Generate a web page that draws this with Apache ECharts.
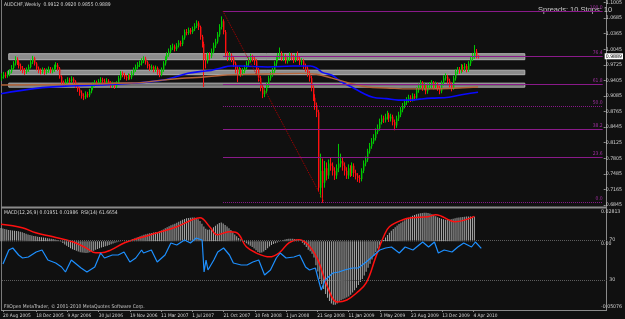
<!DOCTYPE html>
<html><head><meta charset="utf-8">
<script src="https://cdn.jsdelivr.net/npm/echarts@6/dist/echarts.min.js"></script>
<style>html,body{margin:0;padding:0;background:#101010;}#c{width:625px;height:319px;}</style>
</head><body><div id="c"></div>
<script>
const FONT = "'Liberation Sans Narrow','DejaVu Sans Condensed','Liberation Sans',sans-serif";

// ---- categories / tick labels ----
const firstLabel = '20 Aug 2005';
const totalSlots = 310;
const monthNames = ['Jan','Feb','Mar','Apr','May','Jun','Jul','Aug','Sep','Oct','Nov','Dec'];
const tickLabels = ['20 Aug 2005','18 Dec 2005','9 Apr 2006','30 Jul 2006','19 Nov 2006','11 Mar 2007','1 Jul 2007','21 Oct 2007','10 Feb 2008','1 Jun 2008','21 Sep 2008','11 Jan 2009','3 May 2009','23 Aug 2009','13 Dec 2009','4 Apr 2010'];
const priceTicks = [1.1005,1.0685,1.0365,1.0045,0.9725,0.9405,0.9085,0.8765,0.8445,0.8125,0.7805,0.7485,0.7165,0.6845];
const macdTicks = [0.02813, 0, -0.05076];
const rsiLevels = [70, 30];

// ---- weekly AUDCHF candles ----
const firstOpen = 0.945;
const closes = [
0.948,0.952,0.950,0.953,0.958,0.966,0.975,0.984,0.978,0.970,
0.965,0.960,0.958,0.962,0.968,0.978,0.986,0.975,0.965,0.960,
0.958,0.962,0.957,0.960,0.964,0.959,0.962,0.968,0.972,0.965,
0.948,0.935,0.932,0.938,0.942,0.940,0.944,0.938,0.930,0.922,
0.915,0.908,0.906,0.912,0.910,0.918,0.925,0.932,0.936,0.934,
0.938,0.942,0.940,0.936,0.940,0.935,0.930,0.933,0.928,0.934,
0.945,0.955,0.952,0.948,0.945,0.950,0.947,0.955,0.962,0.968,
0.972,0.975,0.980,0.985,0.978,0.970,0.965,0.968,0.962,0.966,
0.958,0.952,0.962,0.975,0.985,0.993,1.000,1.008,1.010,1.005,
1.012,1.018,1.015,1.028,1.040,1.038,1.044,1.040,1.046,1.052,
1.058,1.050,1.030,1.015,0.985,0.980,0.992,0.990,1.000,1.012,
1.020,1.035,1.050,1.062,1.040,0.995,0.988,0.992,0.985,0.975,
0.965,0.958,0.962,0.955,0.960,0.966,0.975,0.982,0.988,0.985,
0.980,0.962,0.945,0.925,0.912,0.918,0.930,0.945,0.952,0.960,
0.975,0.985,0.990,0.995,0.985,0.990,0.980,0.985,0.992,0.988,
0.982,0.990,0.985,0.978,0.980,0.970,0.965,0.955,0.945,0.925,
0.905,0.890,0.875,0.720,0.755,0.730,0.760,0.745,0.770,0.765,
0.755,0.745,0.760,0.770,0.775,0.765,0.755,0.745,0.760,0.750,
0.765,0.750,0.745,0.740,0.738,0.755,0.770,0.778,0.795,0.805,
0.815,0.822,0.835,0.842,0.855,0.862,0.860,0.865,0.870,0.862,
0.866,0.855,0.848,0.862,0.870,0.880,0.888,0.895,0.900,0.905,
0.902,0.908,0.905,0.920,0.928,0.935,0.925,0.930,0.918,0.928,
0.930,0.935,0.928,0.932,0.925,0.918,0.935,0.945,0.948,0.940,
0.932,0.925,0.945,0.958,0.962,0.960,0.968,0.965,0.970,0.963,
0.975,0.985,0.990,1.000,0.9912,0.9889];
const highs = [
0.955,0.958,0.957,0.960,0.963,0.972,0.980,0.990,0.988,0.982,
0.975,0.970,0.966,0.967,0.973,0.983,0.991,0.989,0.978,0.969,
0.965,0.967,0.966,0.965,0.969,0.968,0.967,0.973,0.978,0.976,
0.968,0.951,0.940,0.943,0.947,0.946,0.949,0.947,0.941,0.934,
0.926,0.920,0.914,0.918,0.917,0.923,0.930,0.937,0.941,0.940,
0.943,0.947,0.946,0.944,0.945,0.943,0.939,0.938,0.936,0.939,
0.950,0.960,0.959,0.956,0.952,0.955,0.954,0.960,0.967,0.973,
0.978,0.981,0.986,0.990,0.989,0.981,0.974,0.973,0.971,0.971,
0.969,0.962,0.967,0.980,0.990,0.998,1.006,1.013,1.016,1.014,
1.017,1.023,1.022,1.033,1.045,1.046,1.049,1.048,1.051,1.058,
1.064,1.062,1.053,1.034,1.020,0.995,0.998,0.998,1.006,1.018,
1.026,1.040,1.056,1.072,1.066,1.044,1.000,0.999,0.996,0.990,
0.979,0.970,0.968,0.966,0.966,0.972,0.980,0.988,0.995,0.993,
0.990,0.984,0.966,0.950,0.930,0.924,0.936,0.950,0.958,0.966,
0.980,0.991,0.997,1.008,1.000,0.996,0.994,0.991,0.998,0.997,
0.993,0.996,1.000,0.990,0.986,0.984,0.975,0.970,0.960,0.950,
0.930,0.912,0.895,0.880,0.790,0.780,0.775,0.772,0.778,0.782,
0.772,0.762,0.768,0.810,0.790,0.782,0.772,0.762,0.768,0.766,
0.772,0.770,0.757,0.750,0.746,0.760,0.776,0.784,0.800,0.812,
0.822,0.830,0.842,0.850,0.862,0.870,0.868,0.872,0.878,0.874,
0.872,0.870,0.860,0.868,0.876,0.886,0.894,0.901,0.906,0.911,
0.910,0.914,0.913,0.926,0.934,0.941,0.939,0.936,0.933,0.934,
0.937,0.941,0.939,0.938,0.936,0.929,0.940,0.951,0.955,0.952,
0.944,0.936,0.950,0.963,0.968,0.968,0.974,0.973,0.976,0.974,
0.980,0.990,0.997,1.013,1.005,0.9920];
const lows = [
0.940,0.944,0.945,0.946,0.949,0.955,0.962,0.971,0.972,0.965,
0.960,0.955,0.952,0.954,0.958,0.965,0.974,0.971,0.961,0.955,
0.953,0.954,0.952,0.953,0.956,0.955,0.955,0.958,0.964,0.960,
0.944,0.930,0.927,0.929,0.934,0.935,0.936,0.933,0.925,0.917,
0.909,0.903,0.900,0.902,0.905,0.906,0.914,0.921,0.928,0.929,
0.930,0.934,0.935,0.931,0.932,0.930,0.925,0.926,0.923,0.925,
0.931,0.941,0.947,0.943,0.940,0.941,0.942,0.943,0.951,0.958,
0.964,0.968,0.971,0.976,0.973,0.965,0.960,0.961,0.957,0.958,
0.952,0.947,0.949,0.958,0.971,0.981,0.989,0.996,1.003,1.000,
1.001,1.008,1.010,1.011,1.024,1.033,1.034,1.035,1.036,1.042,
1.048,1.044,1.024,1.008,0.927,0.965,0.975,0.983,0.986,0.996,
1.007,1.016,1.030,1.045,1.035,0.988,0.980,0.982,0.978,0.968,
0.955,0.937,0.950,0.948,0.950,0.955,0.962,0.970,0.977,0.979,
0.972,0.955,0.938,0.918,0.904,0.906,0.914,0.926,0.940,0.948,
0.956,0.970,0.980,0.985,0.980,0.980,0.975,0.975,0.980,0.982,
0.976,0.978,0.980,0.972,0.972,0.964,0.958,0.948,0.938,0.918,
0.898,0.880,0.865,0.712,0.700,0.689,0.720,0.735,0.738,0.755,
0.745,0.736,0.738,0.752,0.762,0.755,0.745,0.738,0.738,0.742,
0.744,0.742,0.737,0.732,0.730,0.733,0.750,0.764,0.773,0.790,
0.800,0.810,0.817,0.830,0.837,0.850,0.853,0.854,0.860,0.855,
0.856,0.848,0.838,0.843,0.857,0.865,0.875,0.883,0.890,0.895,
0.896,0.897,0.899,0.901,0.915,0.923,0.919,0.920,0.912,0.913,
0.922,0.925,0.922,0.923,0.919,0.912,0.914,0.930,0.940,0.934,
0.926,0.918,0.921,0.940,0.953,0.954,0.955,0.958,0.960,0.957,
0.958,0.970,0.980,0.985,0.986,0.9855];

// ---- moving averages (bar index, price) ----
const blueMA = [[0,0.913],[18,0.924],[35,0.929],[52,0.931],[69,0.935],[83,0.941],[89,0.947],[96,0.955],[103,0.959],[108,0.961],[113,0.966],[118,0.970],[123,0.970],[137,0.968],[150,0.970],[159,0.970],[162,0.966],[165,0.957],[170,0.951],[175,0.937],[181,0.925],[186,0.914],[191,0.906],[198,0.903],[204,0.900],[210,0.900],[215,0.902],[221,0.904],[230,0.906],[238,0.912],[245,0.916]];
const brownMA = [[0,0.931],[67,0.935],[83,0.941],[93,0.945],[103,0.947],[114,0.951],[128,0.953],[154,0.955],[162,0.953],[170,0.945],[179,0.935],[188,0.927],[198,0.925],[210,0.923],[218,0.923],[245,0.927]];

// ---- zones: [fromBar, toBar, low, high] ----
const zones = [[4,269,0.9830,0.9953],[4,269,0.9522,0.9614],[4,269,0.9266,0.9348]];
// ---- fibonacci anchors ----
const fibHighBar = 114, fibHighPrice = 1.0825;
const fibLowBar = 166, fibLowPrice = 0.6907;
const fibRatios = [0, 0.236, 0.382, 0.5, 0.618, 0.764, 1];
const lastClose = 0.9889;

// ---- MACD(12,26,9) main (histogram) per bar ----
const macdMain = [
0.0105,0.0102,0.0098,0.0094,0.0090,0.0088,0.0086,0.0084,0.0082,0.0080,
0.0077,0.0072,0.0066,0.0060,0.0055,0.0050,0.0046,0.0043,0.0040,0.0037,
0.0035,0.0033,0.0031,0.0028,0.0025,0.0022,0.0020,0.0018,0.0014,0.0010,
0.0004,-0.0004,-0.0014,-0.0025,-0.0036,-0.0046,-0.0055,-0.0063,-0.0070,-0.0076,
-0.0082,-0.0087,-0.0090,-0.0092,-0.0093,-0.0092,-0.0088,-0.0082,-0.0075,-0.0068,
-0.0062,-0.0056,-0.0050,-0.0045,-0.0040,-0.0036,-0.0030,-0.0024,-0.0018,-0.0012,
-0.0008,-0.0004,-0.0002,0.0000,0.0002,0.0004,0.0007,0.0011,0.0016,0.0022,
0.0028,0.0034,0.0040,0.0046,0.0052,0.0056,0.0060,0.0064,0.0067,0.0070,
0.0072,0.0075,0.0080,0.0087,0.0095,0.0104,0.0112,0.0120,0.0128,0.0134,
0.0140,0.0148,0.0156,0.0164,0.0172,0.0178,0.0183,0.0186,0.0188,0.0190,
0.0190,0.0186,0.0176,0.0162,0.0140,0.0118,0.0100,0.0092,0.0095,0.0102,
0.0112,0.0124,0.0136,0.0146,0.0150,0.0142,0.0130,0.0118,0.0104,0.0090,
0.0072,0.0054,0.0040,0.0026,0.0014,0.0004,-0.0006,-0.0016,-0.0026,-0.0036,
-0.0046,-0.0058,-0.0072,-0.0085,-0.0092,-0.0090,-0.0082,-0.0070,-0.0056,-0.0042,
-0.0030,-0.0022,-0.0016,-0.0010,-0.0004,0.0002,0.0008,0.0014,0.0018,0.0020,
0.0021,0.0020,0.0018,0.0014,0.0008,0.0000,-0.0012,-0.0028,-0.0046,-0.0068,
-0.0080,-0.0100,-0.0130,-0.0190,-0.0240,-0.0300,-0.0340,-0.0380,-0.0420,-0.0450,
-0.0475,-0.0495,-0.0505,-0.0505,-0.0495,-0.0480,-0.0470,-0.0462,-0.0455,-0.0448,
-0.0440,-0.0425,-0.0408,-0.0390,-0.0370,-0.0348,-0.0325,-0.0300,-0.0272,-0.0242,
-0.0210,-0.0178,-0.0146,-0.0115,-0.0085,-0.0058,-0.0032,-0.0010,0.0010,0.0030,
0.0050,0.0068,0.0084,0.0098,0.0112,0.0125,0.0137,0.0148,0.0158,0.0168,
0.0178,0.0188,0.0196,0.0203,0.0210,0.0216,0.0220,0.0224,0.0226,0.0227,
0.0228,0.0226,0.0222,0.0216,0.0208,0.0200,0.0192,0.0186,0.0180,0.0175,
0.0172,0.0170,0.0172,0.0176,0.0180,0.0184,0.0187,0.0190,0.0192,0.0194,
0.0196,0.0197,0.0198,0.0198,0.0196,0.01951];
// ---- MACD signal (bar index, value) ----
const macdSignal = [[0,0.0135],[11,0.0108],[18,0.0068],[27,0.0036],[37,-0.0004],[44,-0.0052],[49,-0.0092],[52,-0.0092],[57,-0.0068],[64,-0.0012],[72,0.0028],[81,0.0068],[91,0.0116],[99,0.0172],[103,0.0188],[108,0.0116],[112,0.0052],[118,0.0076],[122,0.0068],[127,-0.0044],[132,-0.0092],[139,-0.0124],[144,-0.0092],[149,-0.0012],[154,0.0012],[159,-0.0028],[164,-0.0148],[169,-0.0364],[174,-0.0484],[179,-0.0468],[184,-0.0412],[189,-0.0332],[194,-0.0124],[198,0.0036],[201,0.0116],[208,0.0172],[213,0.0188],[221,0.0196],[225,0.0212],[235,0.0156],[245,0.01986]];
// ---- RSI(14) (bar index, value) ----
const rsi = [[0,46],[1,48],[3,60],[5,62],[8,55],[10,52],[13,53],[17,58],[20,60],[23,50],[27,47],[30,43],[32,38],[35,50],[40,42],[43,38],[47,43],[50,57],[52,52],[56,55],[59,55],[62,58],[65,48],[68,52],[71,60],[72,57],[76,60],[79,48],[83,55],[86,67],[89,65],[93,70],[96,67],[99,72],[102,70],[103,38],[104,50],[105,40],[108,50],[110,58],[113,62],[116,55],[118,47],[122,45],[125,45],[128,48],[131,50],[134,35],[137,40],[140,52],[142,57],[145,52],[149,53],[152,55],[155,43],[157,40],[160,42],[163,20],[165,30],[169,37],[172,38],[175,40],[179,42],[182,42],[186,48],[189,53],[193,60],[196,62],[199,63],[203,57],[206,63],[210,60],[211,62],[215,68],[218,63],[221,68],[223,57],[226,60],[230,58],[233,63],[236,67],[240,63],[242,68],[245,61.6654]];

// ---- texts ----
const headerText = 'AUDCHF,Weekly  0.9912 0.9920 0.9855 0.9889';
const spreadText = 'Spreads: 10 Stops: 10';
const indicatorText = 'MACD(12,26,9) 0.01951 0.01986  RSI(14) 61.6654';
const footerText = 'FXOpen MetaTrader, \u00a9 2001-2010 MetaQuotes Software Corp.';

// ================= build =================
const categories = [];
for (let k = 0; k < totalSlots; k++) {
  if (k === 0) { categories.push(firstLabel); continue; }
  const d = new Date(Date.UTC(2005, 7, 21 + 7 * k));
  categories.push(d.getUTCDate() + ' ' + monthNames[d.getUTCMonth()] + ' ' + d.getUTCFullYear());
}
// [barIndex, open, close, low, high]
const candleData = closes.map((c, i) => {
  const o = i === 0 ? firstOpen : closes[i - 1];
  return [i, o, c, Math.min(lows[i], o, c), Math.max(highs[i], o, c)];
});
const lastSlot = totalSlots - 1;
const fibLines = fibRatios.map(r => {
  const lvl = fibLowPrice + r * (fibHighPrice - fibLowPrice);
  const dotted = (r === 0 || r === 0.5);
  return [
    {coord: [fibHighBar, lvl], lineStyle: {color: '#8a1a8a', width: 1, type: dotted ? 'dotted' : 'solid'},
     label: {show: true, position: 'insideEndTop', formatter: (r * 100).toFixed(1), color: '#a030a0', fontSize: 5, fontFamily: FONT, distance: [0, 1]}},
    {coord: [lastSlot, lvl]}
  ];
});
const trendLine = [
  {coord: [fibHighBar, fibHighPrice], lineStyle: {color: '#b00000', width: 1, type: 'dotted'}, label: {show: false}},
  {coord: [fibLowBar, fibLowPrice]}
];
const priceTag = {yAxis: lastClose, lineStyle: {width: 1, color: 'rgba(0,0,0,0)'},
  label: {show: true, position: 'end', formatter: lastClose.toFixed(4), backgroundColor: '#ffffff', color: '#000000',
          padding: [1, 1, 0, 1], fontSize: 5.2, fontFamily: FONT, distance: 1}};
const zoneAreas = zones.map((z, i) => [
  {coord: [z[0], z[3]], itemStyle: {color: i === 2 ? '#707070' : '#8c8c8c', borderColor: '#b4b4b4', borderWidth: 1}},
  {coord: [z[1], z[2]]}
]);

const UP = '#00c800', DOWN = '#ff1010';
function renderCandle(params, api) {
  const x = api.value(0), o = api.value(1), c = api.value(2), l = api.value(3), h = api.value(4);
  const pO = api.coord([x, o]), pC = api.coord([x, c]), pL = api.coord([x, l]), pH = api.coord([x, h]);
  const col = c >= o ? UP : DOWN;
  const xx = Math.round(pO[0]) + 0.5;
  const top = Math.min(pO[1], pC[1]);
  const hgt = Math.max(1, Math.abs(pO[1] - pC[1]));
  return {type: 'group', children: [
    {type: 'line', shape: {x1: xx, y1: pH[1], x2: xx, y2: pL[1]}, style: {stroke: col, lineWidth: 1}},
    {type: 'rect', shape: {x: xx - 0.5, y: top, width: 1.4, height: hgt}, style: {fill: col}}
  ]};
}

const GL = -3.5, GW = 610.7;
const axisFont = {fontSize: 5.2, color: '#d0d0d0', fontFamily: FONT};
const showTick = (idx, val) => tickLabels.includes(val);

const option = {
  backgroundColor: '#101010',
  animation: false,
  textStyle: {fontFamily: FONT},
  grid: [
    {left: GL, width: GW, top: 2, height: 204},
    {left: GL, width: GW, top: 206, height: 99},
    {left: GL, width: GW, top: 210, height: 100}
  ],
  xAxis: [
    {gridIndex: 0, type: 'category', data: categories, show: false},
    {gridIndex: 1, type: 'category', data: categories, show: false},
    {gridIndex: 2, type: 'category', data: categories,
     axisLine: {show: false}, splitLine: {show: false},
     axisTick: {show: true, interval: showTick, alignWithLabel: true, length: 2, lineStyle: {color: '#909090'}},
     axisLabel: {interval: showTick, align: 'left', margin: 3, fontSize: 4.8, color: '#d8d8d8', fontFamily: FONT}}
  ],
  yAxis: [
    {gridIndex: 0, type: 'value', position: 'right', min: 0.68244, max: 1.1009, scale: true,
     splitLine: {show: false}, axisLine: {show: false},
     axisTick: {show: true, customValues: priceTicks, length: 2, lineStyle: {color: '#909090'}},
     axisLabel: Object.assign({customValues: priceTicks, formatter: v => v.toFixed(4), margin: 2}, axisFont)},
    {gridIndex: 1, type: 'value', position: 'right', min: macdTicks[2], max: macdTicks[0],
     splitLine: {show: false}, axisLine: {show: false}, axisTick: {show: false},
     axisLabel: {customValues: macdTicks, margin: 2, fontSize: 5.2, color: '#d0d0d0', fontFamily: FONT,
       formatter: v => v === 0 ? '{z|0.00}' : (v > 0 ? '{t|' + v.toFixed(5) + '}' : '{b|' + v.toFixed(5) + '}'),
       rich: {t: {padding: [11, 0, 0, 0], fontSize: 5.2, color: '#d0d0d0', fontFamily: FONT},
              z: {padding: [4, 0, 0, 0], fontSize: 5.2, color: '#d0d0d0', fontFamily: FONT},
              b: {padding: [4, 0, 0, 0], fontSize: 5.2, color: '#d0d0d0', fontFamily: FONT}}}},
    {gridIndex: 2, type: 'value', position: 'right', min: 0, max: 100,
     splitLine: {show: false}, axisLine: {show: false}, axisTick: {show: false},
     axisLabel: Object.assign({customValues: rsiLevels, formatter: v => String(v), margin: 2}, axisFont)}
  ],
  series: [
    {type: 'line', name: 'objects', xAxisIndex: 0, yAxisIndex: 0, data: [], z: 1, silent: true,
     markArea: {silent: true, data: zoneAreas},
     markLine: {silent: true, symbol: ['none', 'none'], animation: false,
       data: fibLines.concat([trendLine, priceTag])}},
    {type: 'custom', name: 'AUDCHF', xAxisIndex: 0, yAxisIndex: 0, data: candleData, z: 3, clip: true,
     encode: {x: 0, y: [1, 2, 3, 4]}, renderItem: renderCandle},
    {type: 'line', name: 'MA blue', xAxisIndex: 0, yAxisIndex: 0, data: blueMA, smooth: 0.4, showSymbol: false, z: 4,
     lineStyle: {color: '#0a0aff', width: 1.6}},
    {type: 'line', name: 'MA brown', xAxisIndex: 0, yAxisIndex: 0, data: brownMA, smooth: 0.4, showSymbol: false, z: 4,
     lineStyle: {color: '#b4643a', width: 1.4}},
    {type: 'bar', name: 'MACD', xAxisIndex: 1, yAxisIndex: 1, data: macdMain, barWidth: 1, z: 2,
     itemStyle: {color: '#a8a8a8'}},
    {type: 'line', name: 'Signal', xAxisIndex: 1, yAxisIndex: 1, data: macdSignal, smooth: 0.4, showSymbol: false, z: 4,
     lineStyle: {color: '#ff1010', width: 1.5}},
    {type: 'line', name: 'RSI', xAxisIndex: 2, yAxisIndex: 2, data: rsi, showSymbol: false, z: 5,
     lineStyle: {color: '#1e90ff', width: 1.2},
     markLine: {silent: true, symbol: ['none', 'none'], label: {show: false},
       lineStyle: {color: '#606060', type: 'dotted', width: 1},
       data: rsiLevels.map(v => ({yAxis: v}))}}
  ],
  graphic: [
    {type: 'line', shape: {x1: 1.5, y1: 0, x2: 1.5, y2: 310}, style: {stroke: '#7a7a7a', lineWidth: 1}, silent: true},
    {type: 'line', shape: {x1: 606.5, y1: 0, x2: 606.5, y2: 310}, style: {stroke: '#8a8a8a', lineWidth: 1}, silent: true},
    {type: 'line', shape: {x1: 1, y1: 207.5, x2: 607, y2: 207.5}, style: {stroke: '#8a8a8a', lineWidth: 2}, silent: true},
    {type: 'line', shape: {x1: 1, y1: 310.5, x2: 607, y2: 310.5}, style: {stroke: '#8a8a8a', lineWidth: 1}, silent: true},
    {type: 'text', left: 4, top: 2, silent: true, style: {text: headerText, fill: '#d8d8d8', fontSize: 5, fontFamily: FONT}},
    {type: 'text', left: 538, top: 6, silent: true, style: {text: spreadText, fill: '#c8c8c8', fontSize: 7.5, fontFamily: "'Liberation Sans',sans-serif"}},
    {type: 'text', left: 4, top: 210, silent: true, style: {text: indicatorText, fill: '#d8d8d8', fontSize: 5, fontFamily: FONT}},
    {type: 'text', left: 4, top: 304, silent: true, style: {text: footerText, fill: '#c8c8c8', fontSize: 5, fontFamily: FONT}}
  ]
};
const chart = echarts.init(document.getElementById('c'));
chart.setOption(option);
</script>
</body></html>
